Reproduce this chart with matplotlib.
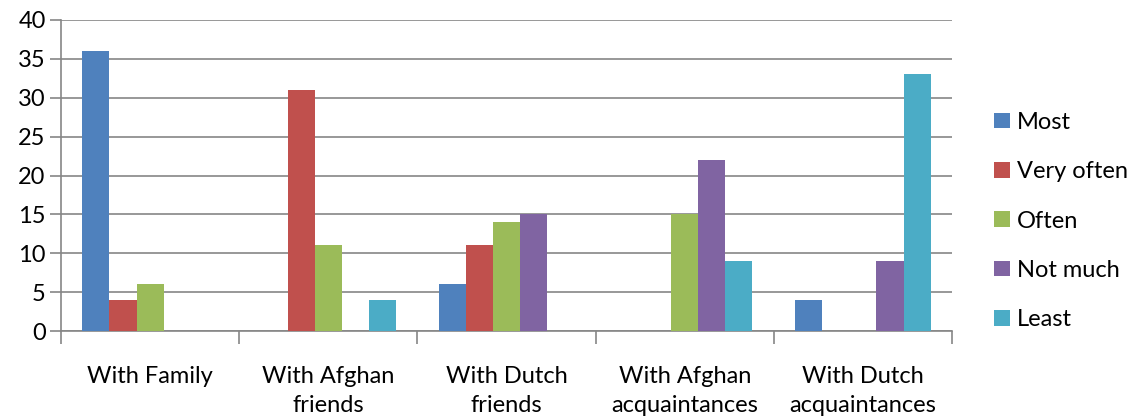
import matplotlib.pyplot as plt
import numpy as np

plt.rcParams['font.family'] = ['Lato', 'DejaVu Sans']

# Survey counts per contact group
groups = ['With Family', 'With Afghan\nfriends', 'With Dutch\nfriends',
          'With Afghan\nacquaintances', 'With Dutch\nacquaintances']
series = ['Most', 'Very often', 'Often', 'Not much', 'Least']
most = [36, 0, 6, 0, 4]
very_often = [4, 31, 11, 0, 0]
often = [6, 11, 14, 15, 0]
not_much = [0, 0, 15, 22, 9]
least = [0, 4, 0, 9, 33]
colors = ['#4F81BD', '#C0504D', '#9BBB59', '#8064A2', '#4BACC6']

values = [most, very_often, often, not_much, least]

fig = plt.figure(figsize=(11.33, 4.2), dpi=100)
ax = fig.add_axes([61 / 1133, 89 / 420, (952 - 61) / 1133, (331 - 20) / 420])

x = np.arange(len(groups))
bw = 0.152
for i, (name, vals, c) in enumerate(zip(series, values, colors)):
    ax.bar(x + (i - 2) * bw, vals, bw, color=c, label=name, zorder=3)

ax.set_xlim(-0.5, len(groups) - 0.5)
ax.set_ylim(0, 40)
ax.set_yticks(range(0, 41, 5))
ax.yaxis.grid(True, color='#868686', lw=1.2, zorder=0)

ax.set_xticks(x)
ax.set_xticklabels(groups, fontsize=17, linespacing=1.5)
ax.set_xticks(np.arange(-0.5, len(groups)), minor=True)
ax.tick_params(axis='x', which='major', length=0, pad=25)
ax.tick_params(axis='x', which='minor', length=9, color='#868686', width=1.2)
ax.tick_params(axis='y', length=8, color='#868686', width=1.2, labelsize=17, pad=3)

for s in ['top', 'right']:
    ax.spines[s].set_visible(False)
for s in ['left', 'bottom']:
    ax.spines[s].set_color('#868686')
    ax.spines[s].set_linewidth(1.2)

fig.legend(loc='center left', bbox_to_anchor=(985 / 1133, 1 - 221 / 420),
           frameon=False, fontsize=17, handlelength=0.65, handleheight=0.65,
           handletextpad=0.3, labelspacing=1.2, borderaxespad=0)

fig.savefig('out.png', dpi=100)
